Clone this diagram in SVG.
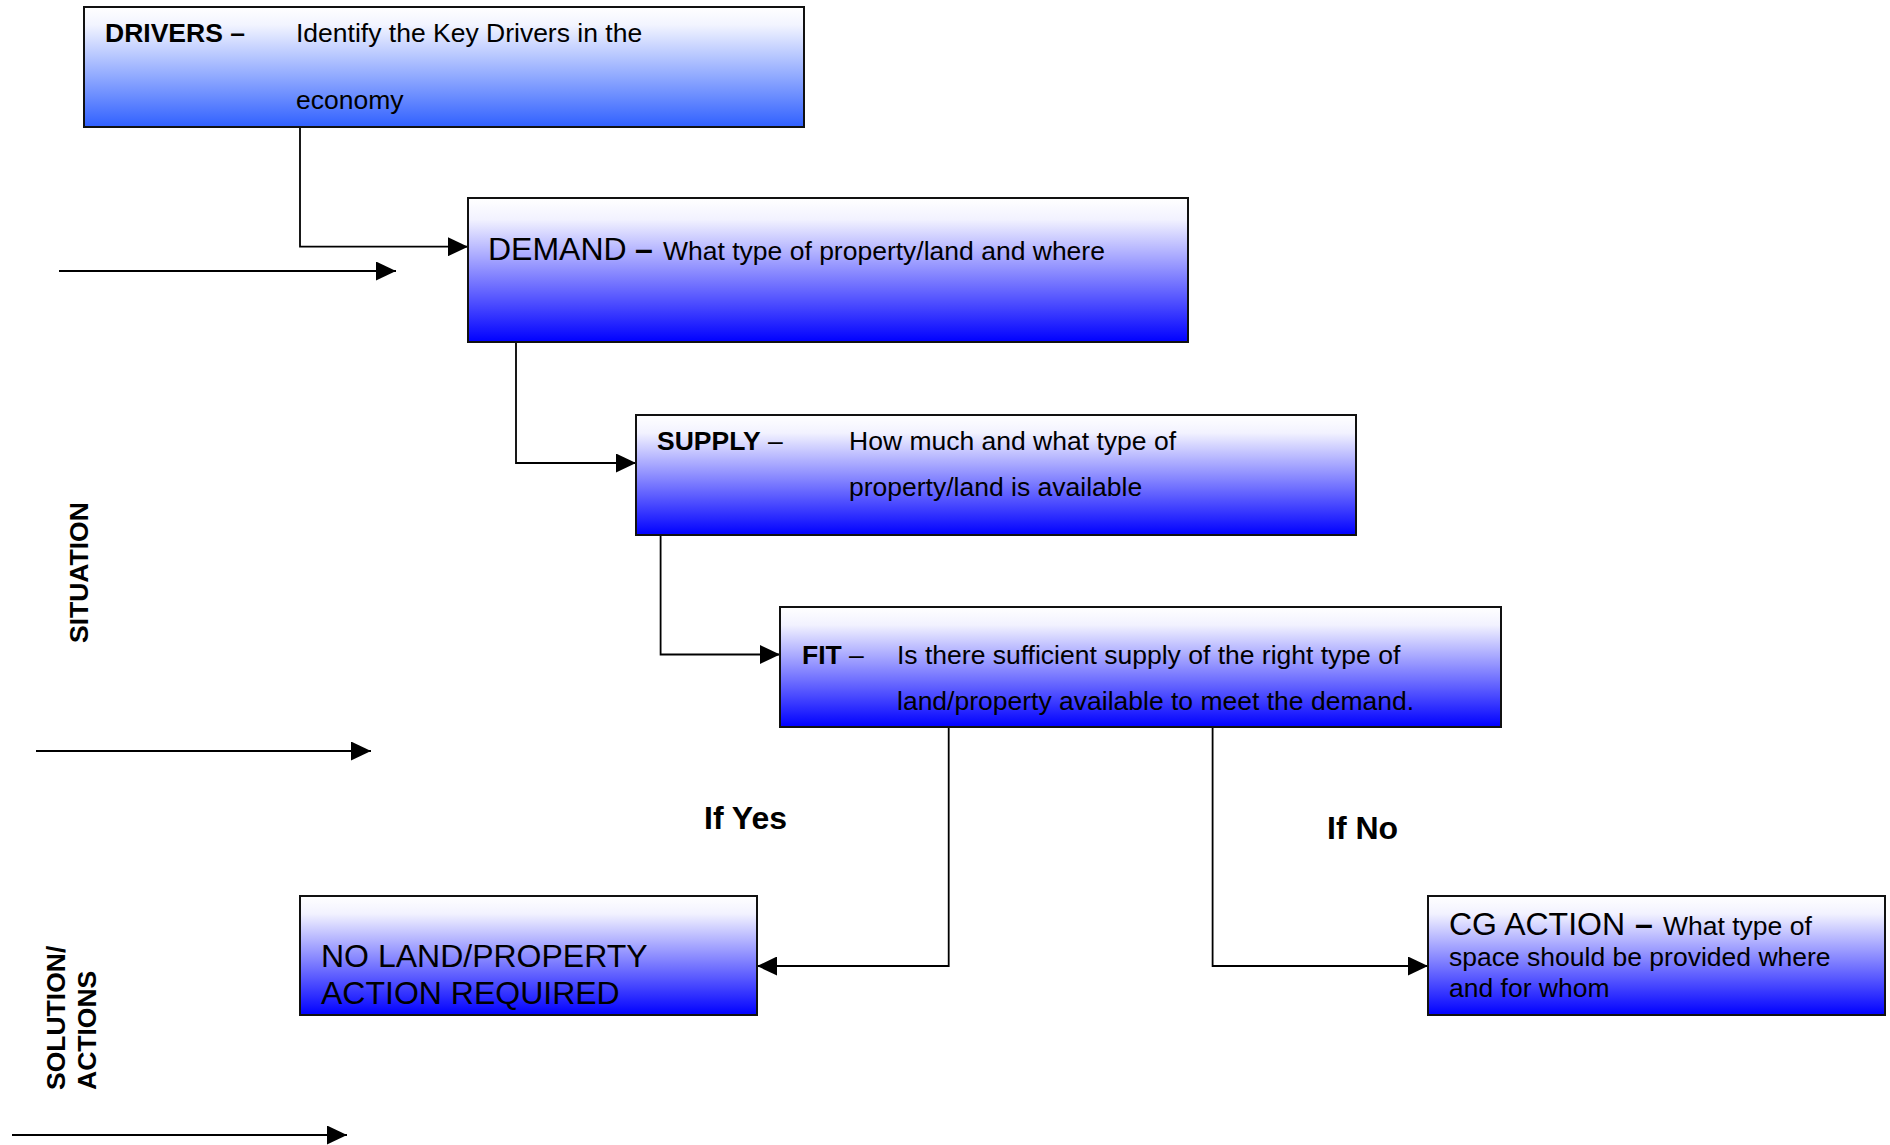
<svg xmlns="http://www.w3.org/2000/svg" width="1890" height="1145" viewBox="0 0 1890 1145">
<defs>
<linearGradient id="gBlue" x1="0" y1="0" x2="0" y2="1">
<stop offset="0" stop-color="#ffffff"/>
<stop offset="0.15" stop-color="#f2f2ff"/>
<stop offset="1" stop-color="#0000ff"/>
</linearGradient>
<linearGradient id="gDrv" x1="0" y1="0" x2="0" y2="1">
<stop offset="0" stop-color="#ffffff"/>
<stop offset="0.15" stop-color="#f2f4ff"/>
<stop offset="1" stop-color="#3060ff"/>
</linearGradient>
<marker id="arr" viewBox="0 0 20 19" refX="20" refY="9.5" markerWidth="20" markerHeight="19" markerUnits="userSpaceOnUse" orient="auto">
<path d="M0,0 L20,9.5 L0,19 Z" fill="#000"/>
</marker>
<style>
text{font-family:"Liberation Sans",Arial,sans-serif;fill:#000}
.box{stroke:#111;stroke-width:2}
.t{font-size:26.5px}
.b{font-weight:bold}
.h{font-size:32px}
.conn{fill:none;stroke:#000;stroke-width:1.8}
.long{fill:none;stroke:#000;stroke-width:2.2}
</style>
</defs>

<g id="connectors">
<path class="conn" d="M300,127 V246.7 H468" marker-end="url(#arr)"/>
<path class="conn" d="M516,342 V463 H636" marker-end="url(#arr)"/>
<path class="conn" d="M660.6,534 V654.5 H780" marker-end="url(#arr)"/>
<path class="conn" d="M948.7,727 V966 H757" marker-end="url(#arr)"/>
<path class="conn" d="M1212.6,727 V966 H1428" marker-end="url(#arr)"/>
<path class="long" d="M59,271 H396" marker-end="url(#arr)"/>
<path class="long" d="M36,751 H371" marker-end="url(#arr)"/>
<path class="long" d="M12,1135 H347" marker-end="url(#arr)"/>
</g>

<g id="drivers">
<rect class="box" x="84" y="7" width="720" height="120" fill="url(#gDrv)"/>
<text class="t b" x="105" y="42">DRIVERS –</text>
<text class="t" x="296" y="42">Identify the Key Drivers in the</text>
<text class="t" x="296" y="109">economy</text>
</g>

<g id="demand">
<rect class="box" x="468" y="198" width="720" height="144" fill="url(#gBlue)"/>
<text x="488" y="260"><tspan class="h">DEMAND</tspan><tspan class="h b" x="635">–</tspan><tspan class="t" x="663">What type of property/land and where</tspan></text>
</g>

<g id="supply">
<rect class="box" x="636" y="415" width="720" height="120" fill="url(#gBlue)"/>
<text class="t" x="657" y="450"><tspan class="b">SUPPLY</tspan> –</text>
<text class="t" x="849" y="450">How much and what type of</text>
<text class="t" x="849" y="496">property/land is available</text>
</g>

<g id="fit">
<rect class="box" x="780" y="607" width="721" height="120" fill="url(#gBlue)"/>
<text class="t" x="802" y="664"><tspan class="b">FIT</tspan> –</text>
<text class="t" x="897" y="664">Is there sufficient supply of the right type of</text>
<text class="t" x="897" y="710">land/property available to meet the demand.</text>
</g>

<g id="no-action">
<rect class="box" x="300" y="896" width="457" height="119" fill="url(#gBlue)"/>
<text class="h" x="321" y="967">NO LAND/PROPERTY</text>
<text class="h" x="321" y="1004">ACTION REQUIRED</text>
</g>

<g id="cg-action">
<rect class="box" x="1428" y="896" width="457" height="119" fill="url(#gBlue)"/>
<text x="1449" y="935"><tspan class="h">CG ACTION</tspan><tspan class="h b" x="1635">–</tspan><tspan class="t" x="1663">What type of</tspan></text>
<text class="t" x="1449" y="966">space should be provided where</text>
<text class="t" x="1449" y="997">and for whom</text>
</g>

<g id="labels">
<text class="b" font-size="32" x="704" y="829">If Yes</text>
<text class="b" font-size="32" x="1327" y="839">If No</text>
<text class="t b" transform="translate(88,643) rotate(-90)">SITUATION</text>
<text class="t b" transform="translate(65,1090) rotate(-90)">SOLUTION/</text>
<text class="t b" transform="translate(96,1090) rotate(-90)">ACTIONS</text>
</g>
</svg>
